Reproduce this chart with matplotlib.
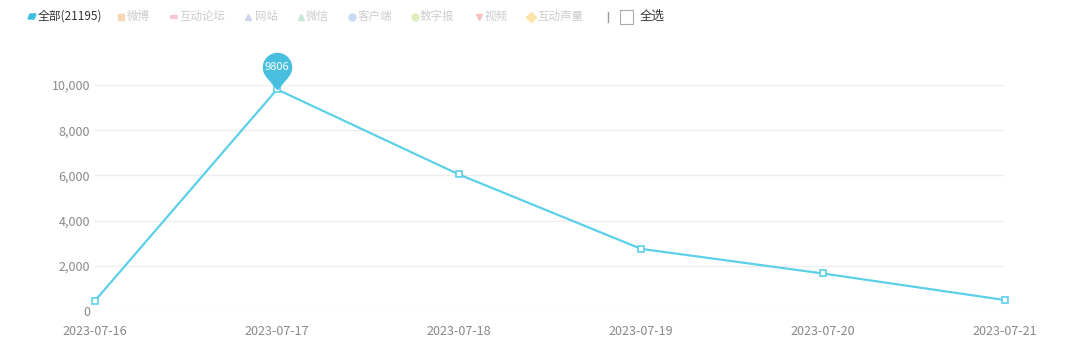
import numpy as np
import matplotlib
matplotlib.use('Agg')
import matplotlib.pyplot as plt
from matplotlib.path import Path

plt.rcParams['font.family'] = ['Noto Sans CJK SC', 'DejaVu Sans']

dates = ['2023-07-16', '2023-07-17', '2023-07-18', '2023-07-19', '2023-07-20', '2023-07-21']
counts = [455, 9806, 6040, 2750, 1660, 484]
y_ticks = [0, 2000, 4000, 6000, 8000, 10000]
legend_names = ['微博', '互动论坛', '网站', '微信', '客户端', '数字报', '视频', '互动声量']
legend_colors = ['#f9d6b4', '#f7c6d6', '#cdd6ea', '#c6e6d6', '#c9daf5', '#ddedbe', '#f5c0c0', '#fbe3aa']
legend_markers = ['s', '_', '^', '^', 'o', 'o', 'v', 'D']
legend_x = [120.5, 173.5, 247.5, 301, 352, 415, 479, 530.5]
legend_tx = [127, 179, 255, 306, 358, 420, 485, 537]

line_color = '#5ccfe9'
pin_color = '#49bfe0'

fig = plt.figure(figsize=(10.8, 3.54), dpi=100)
ax = fig.add_axes([95/1080, 1-311/354, 910/1080, 226/354])

x = np.arange(len(dates))
ax.plot(x, counts, color=line_color, lw=1.6, marker='s', ms=4.5,
        mfc='white', mec=line_color, mew=1.2, clip_on=False, zorder=3)

ax.set_xlim(0, len(dates)-1)
ax.set_ylim(0, 10000)
ax.set_xticks(x)
ax.set_xticklabels(dates)
ax.set_yticks(y_ticks)
ax.set_yticklabels([f'{v:,}' for v in y_ticks])
ax.tick_params(length=0, colors='#888888', labelsize=9)
ax.tick_params(axis='x', pad=10)
ax.tick_params(axis='y', pad=3.5)
for s in ax.spines.values():
    s.set_visible(False)
ax.grid(axis='y', color='#eeeeee', lw=1)
ax.set_axisbelow(True)

# pin for max value
r, d = 14.0, 22.0
a = np.degrees(np.arccos(r/d))
angs = np.radians(np.linspace(-90 + a, 270 - a, 40))
verts = [(0, 0)] + [(r*np.cos(t), d + r*np.sin(t)) for t in angs] + [(0, 0)]
codes = [Path.MOVETO] + [Path.LINETO]*(len(verts)-2) + [Path.CLOSEPOLY]
pin = Path(verts, codes)
imax = int(np.argmax(counts))
ms_pin = 2*(d + r)*72/100
ax.plot([x[imax]], [counts[imax]], marker=pin, ms=ms_pin, color=pin_color,
        mec=pin_color, clip_on=False, zorder=5, ls='none')
ax.annotate(str(counts[imax]), (x[imax], counts[imax]), xytext=(0, d*72/100),
            textcoords='offset points', ha='center', va='center',
            color='white', fontsize=8, zorder=6, annotation_clip=False)

# legend row
ly = 1 - 16.5/354
fig.patches.append(plt.Polygon([[28/1080, ly-2.5/354], [34/1080, ly-2.5/354],
                                [36/1080, ly+2.5/354], [30/1080, ly+2.5/354]],
                               closed=True, transform=fig.transFigure,
                               color='#3cbfdf'))
fig.text(38/1080, ly, f'全部({sum(counts)})', fontsize=8.5, color='#333333', va='center')
for name, c, m, lx, tx in zip(legend_names, legend_colors, legend_markers, legend_x, legend_tx):
    fig.add_artist(plt.Line2D([lx/1080], [ly], marker=m, ms=5 if m != '_' else 6,
                              mew=3 if m == '_' else 1, color=c, mec=c,
                              transform=fig.transFigure))
    fig.text(tx/1080, ly, name, fontsize=8.3, color='#cccccc', va='center')
fig.add_artist(plt.Line2D([608/1080, 608/1080], [ly-5/354, ly+5/354],
                          color='#999999', lw=1, transform=fig.transFigure))
fig.patches.append(plt.Rectangle((620/1080, ly-7/354), 13/1080, 14/354,
                                 fill=False, ec='#aaaaaa', lw=0.8,
                                 transform=fig.transFigure))
fig.text(640/1080, ly, '全选', fontsize=9, color='#333333', va='center')

fig.savefig('out.png', dpi=100)
